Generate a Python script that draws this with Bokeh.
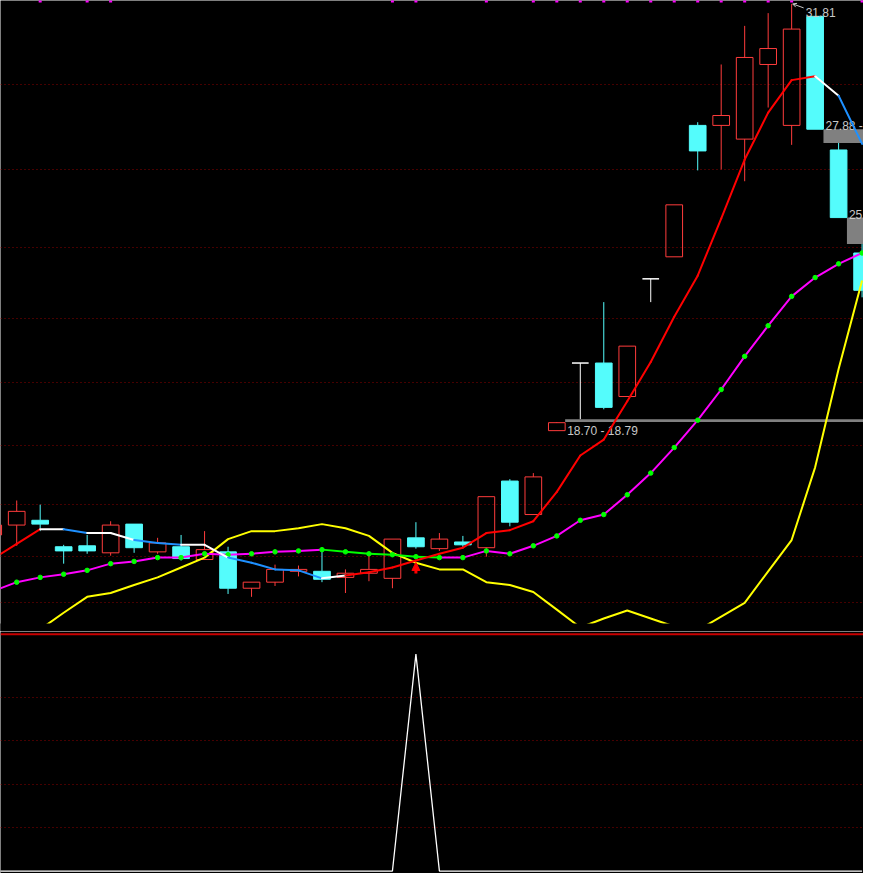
from bokeh.plotting import figure
from bokeh.models import Range1d, FixedTicker, Grid, Span, Arrow, NormalHead, OpenHead
from bokeh.layouts import column
from bokeh.embed import file_html
from bokeh.resources import INLINE
from bokeh.core.properties import value

# ---------------- data ----------------
idx = list(range(38))
opens = [15.16, 15.47, 15.62, 14.79, 14.82, 14.60, 15.50, 14.63, 14.79, 14.39,
         14.63, 13.49, 13.68, 14.02, 14.02, 13.83, 13.96, 13.80, 15.07, 14.73,
         14.94, 14.76, 16.85, 15.80, 18.43, 20.55, 20.55, 19.50, 23.19, 23.88,
         28.00, 28.00, 27.57, 29.91, 28.00, 31.42, 27.23, 24.00]
highs = [15.47, 16.24, 16.11, 14.85, 15.16, 15.59, 15.50, 15.07, 15.16, 15.28,
         14.79, 13.68, 14.23, 14.20, 14.70, 14.08, 14.60, 15.03, 15.56, 15.22,
         15.13, 16.36, 16.91, 17.10, 18.70, 20.55, 22.46, 21.08, 23.19, 25.51,
         28.10, 29.91, 31.12, 31.52, 31.81, 31.42, 27.45, 24.28]
lows = [15.16, 14.82, 15.28, 14.26, 14.57, 14.51, 14.60, 14.57, 14.36, 14.39,
        13.31, 13.22, 13.56, 13.86, 13.68, 13.34, 13.71, 13.49, 14.73, 14.66,
        14.76, 14.48, 15.43, 15.80, 18.43, 18.79, 19.10, 19.50, 22.46, 23.88,
        26.59, 26.62, 26.25, 28.56, 27.39, 27.88, 25.11, 22.61]
closes = [15.47, 15.90, 15.50, 14.66, 14.66, 15.47, 14.76, 14.91, 14.42, 14.70,
          13.49, 13.68, 14.08, 14.08, 13.77, 13.96, 14.08, 15.03, 14.79, 15.03,
          14.85, 16.36, 15.56, 16.98, 18.68, 20.55, 19.16, 21.08, 23.19, 25.51,
          27.20, 28.31, 30.13, 30.41, 31.02, 27.88, 25.11, 22.83]

# short moving average (MA5) and its per-segment state: R rising, W turning, B falling
ma5 = [14.42, 14.88, 15.34, 15.34, 15.22, 15.22, 15.00, 14.91, 14.85, 14.85,
       14.45, 14.29, 14.08, 14.05, 13.80, 13.89, 13.99, 14.14, 14.36, 14.57,
       14.76, 15.22, 15.31, 15.59, 16.51, 17.65, 18.15, 19.35, 20.58, 22.00,
       23.29, 25.08, 26.93, 28.40, 29.42, 29.54, 28.93, 27.42]
ma5_state = ['R', 'R', 'W', 'B', 'W', 'W', 'B', 'B', 'W', 'W', 'B', 'B', 'B', 'B', 'W',
             'R', 'R', 'R', 'R', 'R', 'R', 'R', 'R', 'R', 'R', 'R', 'R', 'R', 'R', 'R',
             'R', 'R', 'R', 'R', 'R', 'W', 'B']

# slower line (magenta, green where weakening)
mid = [13.40, 13.68, 13.83, 13.93, 14.05, 14.26, 14.33, 14.45, 14.45, 14.57,
       14.54, 14.57, 14.63, 14.66, 14.70, 14.63, 14.57, 14.54, 14.48, 14.45,
       14.45, 14.66, 14.57, 14.82, 15.13, 15.62, 15.80, 16.42, 17.10, 17.90,
       18.76, 19.72, 20.76, 21.72, 22.64, 23.23, 23.66, 24.00]
mid_state = ['U'] * 14 + ['D'] * 5 + ['U'] * 18

# yellow line
yel = [11.43, 11.83, 12.20, 12.72, 13.22, 13.34, 13.59, 13.83, 14.14, 14.45,
       15.03, 15.28, 15.28, 15.37, 15.50, 15.37, 15.13, 14.60, 14.29, 14.08,
       14.08, 13.68, 13.59, 13.37, 12.82, 12.26, 12.54, 12.79, 12.54, 12.29,
       12.17, 12.60, 13.03, 14.02, 15.00, 17.28, 20.36, 23.14]

# lower panel signal
signal = [0, 0, 0, 0, 0, 0, 0, 0, 0, 0, 0, 0, 0, 0, 0, 0, 0, 0, 100, 0,
          0, 0, 0, 0, 0, 0, 0, 0, 0, 0, 0, 0, 0, 0, 0, 0, 0, 0]

# magenta flags along the top edge
flags = [0, 0, 1, 0, 1, 1, 0, 0, 0, 0, 0, 0, 0, 0, 0, 0, 0, 1, 1, 0,
         0, 1, 0, 1, 1, 1, 1, 1, 1, 1, 1, 1, 1, 1, 1, 0, 0, 1]

# price gaps (candle index after which the gap band starts, the two edges)
gap_at = [24, 35, 36]
gap_a = [18.70, 27.88, 25.11]
gap_b = [18.79, 27.45, 24.28]

grid_levels = [13.05, 14.50, 16.13, 17.95, 19.95, 21.96, 24.18, 26.61, 29.29]
low_grid_levels = [20, 40, 60, 80]

# ---------------- styling ----------------
W = 863
MAIN_FRAME = 623      # visible price area
MAIN_H = 631          # price figure incl. black strip below it
LOW_H = 242
BG = "black"
UP = "#FF3C3C"
DOWN = "#54FCFC"
GRID = "#8C0000"
TXT = "#C8C8C8"
FONT = "Liberation Sans"
BODY_W = 0.71

P_LO, P_HI = 12.384, 31.916
xr = Range1d(0.31, 37.06)
ppx = W / (xr.end - xr.start)
ppy = MAIN_FRAME / (P_HI - P_LO)
yr = Range1d(P_LO - (MAIN_H - MAIN_FRAME) / ppy, P_HI)


def base_fig(height, y_range):
    f = figure(width=W, height=height, x_range=xr, y_range=y_range,
               x_axis_type=None, y_axis_type=None, toolbar_location=None,
               output_backend="svg", background_fill_color=BG,
               border_fill_color=BG, min_border_left=0, min_border_right=0,
               min_border_top=0, min_border_bottom=0)
    f.outline_line_color = None
    return f


p = base_fig(MAIN_H, yr)
p.add_layout(Grid(dimension=1, ticker=FixedTicker(ticks=grid_levels),
                  grid_line_color=GRID, grid_line_dash="1 3", grid_line_width=1))

# candles
up_i = [i for i in idx if closes[i] > opens[i]]
dn_i = [i for i in idx if closes[i] < opens[i]]
fl_i = [i for i in idx if closes[i] == opens[i]]


def wick(ids, color):
    tops = [max(opens[i], closes[i]) for i in ids]
    bots = [min(opens[i], closes[i]) for i in ids]
    p.segment(x0=ids, y0=[highs[i] for i in ids], x1=ids, y1=tops,
              line_color=color, line_width=1)
    p.segment(x0=ids, y0=bots, x1=ids, y1=[lows[i] for i in ids],
              line_color=color, line_width=1)


wick(up_i, UP)
p.vbar(x=up_i, width=BODY_W, top=[closes[i] for i in up_i],
       bottom=[opens[i] for i in up_i], fill_alpha=0, line_color=UP, line_width=1)
wick(dn_i, DOWN)
p.vbar(x=dn_i, width=BODY_W, top=[opens[i] for i in dn_i],
       bottom=[closes[i] for i in dn_i], fill_color=DOWN, line_color=DOWN, line_width=1)
p.segment(x0=fl_i, y0=[highs[i] for i in fl_i], x1=fl_i, y1=[lows[i] for i in fl_i],
          line_color="white", line_width=1)
p.segment(x0=[i - BODY_W / 2 for i in fl_i], y0=[opens[i] for i in fl_i],
          x1=[i + BODY_W / 2 for i in fl_i], y1=[closes[i] for i in fl_i],
          line_color="white", line_width=1.5)

# gap bands
p.quad(left=[g + BODY_W / 2 for g in gap_at], right=[xr.end + 1] * len(gap_at),
       bottom=[min(a, b) for a, b in zip(gap_a, gap_b)],
       top=[max(a, b) for a, b in zip(gap_a, gap_b)],
       fill_color="#808080", line_color=None)
for g, a, b in zip(gap_at, gap_a, gap_b):
    lab = f"{a:.2f} - {b:.2f}"
    if b > a:  # upward gap: label below band
        p.text(x=[g + BODY_W / 2], y=[a], text=[lab], x_offset=2, y_offset=2,
               text_baseline="top", text_align="left", text_color=TXT,
               text_font=value(FONT), text_font_size="12px")
    else:  # downward gap: label above band
        p.text(x=[g + BODY_W / 2], y=[a], text=[lab], x_offset=2, y_offset=-3,
               text_baseline="alphabetic", text_align="left", text_color=TXT,
               text_font=value(FONT), text_font_size="12px")

# yellow line
p.line(idx, yel, line_color="#FFFF00", line_width=2)

# magenta / green line
mid_cols = ["#FF00FF" if s == 'U' else "#00FF00" for s in mid_state]
p.segment(x0=idx[:-1], y0=mid[:-1], x1=idx[1:], y1=mid[1:], line_color=mid_cols,
          line_width=2, line_cap="round")
p.scatter(idx, mid, size=4.5, color="#00FF00", marker="circle")

# MA5 with state colours
cmap = {'R': "#FF0000", 'W': "#FFFFFF", 'B': "#1E90FF"}
p.segment(x0=idx[:-1], y0=ma5[:-1], x1=idx[1:], y1=ma5[1:],
          line_color=[cmap[s] for s in ma5_state], line_width=2, line_cap="round")

# black strip under the price area (lines are cut at its top edge)
p.quad(left=[xr.start - 1], right=[xr.end + 1], bottom=[yr.start - 5], top=[P_LO],
       fill_color=BG, line_color=None)

# buy arrow where the signal fires
for i in idx:
    if signal[i] > 0:
        p.add_layout(Arrow(end=NormalHead(size=8, fill_color="#FF0000",
                                          line_color="#FF0000"),
                           x_start=i, y_start=ma5[i] - 13 / ppy,
                           x_end=i, y_end=ma5[i] - 2 / ppy,
                           line_color="#FF0000", line_width=3))

# highest price label
hi_i = max(idx, key=lambda i: highs[i])
p.add_layout(Arrow(end=OpenHead(size=4, line_color=TXT, line_width=1),
                   x_start=hi_i + 12 / ppx, y_start=highs[hi_i] - 4 / ppy,
                   x_end=hi_i + 1 / ppx, y_end=highs[hi_i],
                   line_color=TXT, line_width=1))
p.text(x=[hi_i], y=[highs[hi_i]], text=[f"{highs[hi_i]:.2f}"], x_offset=14,
       y_offset=9, text_baseline="alphabetic", text_align="left",
       text_color=TXT, text_font=value(FONT), text_font_size="12px")

# flags at top
f_i = [i for i in idx if flags[i]]
p.rect(x=f_i, y=[yr.end] * len(f_i), width=3, height=4, width_units="screen",
       height_units="screen", fill_color="#FF00FF", line_color=None)

# ---------------- lower panel ----------------
lr = Range1d(-1.13, 110.4)
q = base_fig(LOW_H, lr)
q.add_layout(Grid(dimension=1, ticker=FixedTicker(ticks=low_grid_levels),
                  grid_line_color=GRID, grid_line_dash="1 3", grid_line_width=1))
q.add_layout(Span(location=109.1, dimension="width", line_color="#C80000",
                  line_width=2))
q.line(idx, signal, line_color="white", line_width=1.3)

layout = column(p, q, spacing=0)
open("out.html", "w").write(file_html(layout, INLINE))
